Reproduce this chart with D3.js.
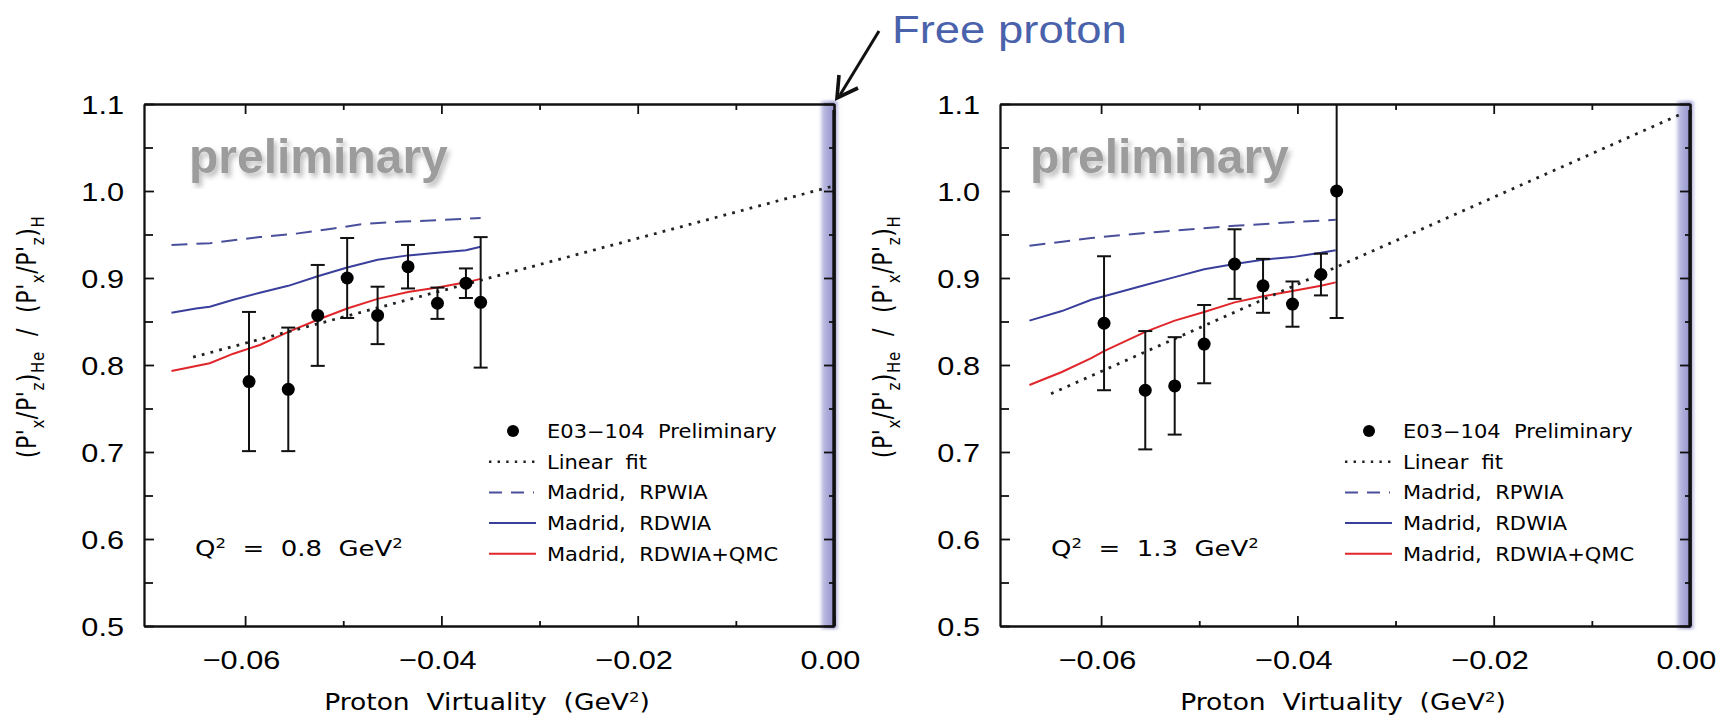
<!DOCTYPE html>
<html>
<head>
<meta charset="utf-8">
<script src="https://cdn.jsdelivr.net/npm/d3@7"></script>
<style>
  body { margin: 0; background: #fff; }
  svg { display: block; }
  text { font-family: "Liberation Sans", Arial, sans-serif; }
  .hershey { font-family: "DejaVu Sans", sans-serif; }
</style>
</head>
<body>
<svg id="chart" width="1726" height="720"></svg>
<script>
// axis setup
const X_DOMAIN = [-0.0703, 0];
const Y_DOMAIN = [0.5, 1.1];
const X_MAJOR = [-0.06, -0.04, -0.02, 0];
const X_MINOR = [-0.05, -0.03, -0.01];
const Y_MAJOR = [0.5, 0.6, 0.7, 0.8, 0.9, 1.0, 1.1];
const Y_MINOR = [0.55, 0.65, 0.75, 0.85, 0.95, 1.05];
const FREE_BAND = [-0.0016, 0.0006];

const LEGEND_LABELS = ['E03\u2212104\u00a0\u00a0Preliminary', 'Linear\u00a0\u00a0fit',
  'Madrid,\u00a0\u00a0RPWIA', 'Madrid,\u00a0\u00a0RDWIA', 'Madrid,\u00a0\u00a0RDWIA+QMC'];
const Q2_LABELS = ['0.8', '1.3'];

// [virtuality, ratio, error]
const DATA_08 = [
  [-0.0596, 0.781, 0.080], [-0.0556, 0.772, 0.071], [-0.0526, 0.857, 0.058],
  [-0.0496, 0.900, 0.046], [-0.0465, 0.857, 0.033], [-0.0434, 0.913, 0.025],
  [-0.0404, 0.871, 0.018], [-0.0375, 0.894, 0.017], [-0.0360, 0.872, 0.075]
];
const FIT_08 = [[-0.0653, 0.809], [-0.0003, 1.005]];
const RPWIA_08 = [[-0.0675, 0.938], [-0.0636, 0.940], [-0.0585, 0.947], [-0.0548, 0.951],
  [-0.0510, 0.957], [-0.0480, 0.962], [-0.0440, 0.965], [-0.0411, 0.966], [-0.0360, 0.969]];
const RDWIA_08 = [[-0.0675, 0.860], [-0.0650, 0.865], [-0.0636, 0.867], [-0.0612, 0.875],
  [-0.0585, 0.883], [-0.0556, 0.891], [-0.0526, 0.902], [-0.0496, 0.912], [-0.0465, 0.921],
  [-0.0434, 0.926], [-0.0404, 0.929], [-0.0375, 0.932], [-0.0360, 0.936]];
const QMC_08 = [[-0.0675, 0.793], [-0.0636, 0.802], [-0.0612, 0.813], [-0.0585, 0.823],
  [-0.0556, 0.838], [-0.0526, 0.852], [-0.0496, 0.865], [-0.0465, 0.876], [-0.0434, 0.884],
  [-0.0404, 0.889], [-0.0375, 0.895], [-0.0360, 0.899]];

const DATA_13 = [
  [-0.0597, 0.848, 0.077], [-0.0555, 0.771, 0.068], [-0.0525, 0.776, 0.056],
  [-0.0495, 0.824, 0.045], [-0.0464, 0.916, 0.040], [-0.0435, 0.891, 0.031],
  [-0.0405, 0.870, 0.026], [-0.0376, 0.904, 0.024], [-0.0360, 1.000, 0.146]
];
const FIT_13 = [[-0.0651, 0.767], [-0.0008, 1.089]];
const RPWIA_13 = [[-0.0673, 0.937], [-0.0610, 0.946], [-0.0543, 0.953], [-0.0464, 0.960],
  [-0.0407, 0.964], [-0.0361, 0.967]];
const RDWIA_13 = [[-0.0673, 0.851], [-0.0640, 0.862], [-0.0610, 0.875], [-0.0555, 0.892],
  [-0.0525, 0.901], [-0.0495, 0.910], [-0.0464, 0.916], [-0.0435, 0.921], [-0.0405, 0.924],
  [-0.0376, 0.929], [-0.0361, 0.932]];
const QMC_13 = [[-0.0673, 0.777], [-0.0640, 0.792], [-0.0610, 0.808], [-0.0597, 0.816],
  [-0.0555, 0.838], [-0.0525, 0.851], [-0.0495, 0.861], [-0.0464, 0.872], [-0.0435, 0.879],
  [-0.0405, 0.885], [-0.0376, 0.891], [-0.0361, 0.895]];

const SX = 1.18;   // the source lettering is stretched sideways
const BLUE = '#3a3f9c', BLUE_DASH = '#4a4f9c', RED = '#e0262a';

const svg = d3.select('#chart');
const defs = svg.append('defs');
const grad = defs.append('linearGradient').attr('id', 'band');
[[0, '#ffffff', 0], [0.2, '#bcbce2', 0.95], [0.5, '#a4a4d6', 1], [0.75, '#9696ce', 1], [1, '#c4c4e6', 0]]
  .forEach(s => grad.append('stop').attr('offset', s[0]).attr('stop-color', s[1]).attr('stop-opacity', s[2]));
defs.append('filter').attr('id', 'soft').attr('x', '-50%').attr('width', '200%')
  .append('feGaussianBlur').attr('stdDeviation', 1.4);
defs.append('filter').attr('id', 'shadow')
  .append('feDropShadow').attr('dx', 3).attr('dy', 4).attr('stdDeviation', 2.5)
  .attr('flood-color', '#000').attr('flood-opacity', 0.25);

function stretched(g, x, y, str, sx = SX) {
  return g.append('text').attr('transform', `translate(${x},${y}) scale(${sx},1)`).text(str);
}
function sup(t, s, size) {
  t.append('tspan').attr('font-size', size).attr('dy', -size * 0.6).text(s);
}

function drawPanel(idx, left, data, fit, rpwia, rdwia, qmc, wmX) {
  const W = 690, top = 104, bottom = 626;
  const x = d3.scaleLinear().domain(X_DOMAIN).range([left, left + W]);
  const y = d3.scaleLinear().domain(Y_DOMAIN).range([bottom, top]);
  const g = svg.append('g');

  g.append('clipPath').attr('id', 'clip' + idx).append('rect')
    .attr('x', left).attr('y', top).attr('width', W).attr('height', bottom - top);

  // free proton band
  g.append('rect').attr('x', x(FREE_BAND[0])).attr('width', x(FREE_BAND[1]) - x(FREE_BAND[0]))
    .attr('y', top - 3).attr('height', bottom - top + 6).attr('fill', 'url(#band)').attr('filter', 'url(#soft)');

  // watermark
  g.append('text').attr('x', wmX).attr('y', 173).attr('font-size', 48).attr('font-weight', 'bold')
    .attr('fill', '#9c9c9c').attr('filter', 'url(#shadow)').text('preliminary');

  const plot = g.append('g').attr('clip-path', `url(#clip${idx})`);
  const line = d3.line().x(d => x(d[0])).y(d => y(d[1]));
  plot.append('path').attr('d', line(rpwia)).attr('fill', 'none').attr('stroke', BLUE_DASH)
    .attr('stroke-width', 2).attr('stroke-dasharray', '16 9');
  plot.append('path').attr('d', line(rdwia)).attr('fill', 'none').attr('stroke', BLUE).attr('stroke-width', 2);
  plot.append('path').attr('d', line(qmc)).attr('fill', 'none').attr('stroke', RED).attr('stroke-width', 2);
  plot.append('path').attr('d', line(fit)).attr('fill', 'none').attr('stroke', '#222')
    .attr('stroke-width', 2.8).attr('stroke-dasharray', '2.8 6.2');

  // error bars
  const eb = plot.append('g').attr('stroke', '#111').attr('stroke-width', 2);
  eb.selectAll('line.v').data(data).join('line')
    .attr('x1', d => x(d[0])).attr('x2', d => x(d[0]))
    .attr('y1', d => y(d[1] - d[2])).attr('y2', d => y(d[1] + d[2]));
  eb.selectAll('line.c').data(data.flatMap(d => [[d[0], d[1] - d[2]], [d[0], d[1] + d[2]]])).join('line')
    .attr('x1', d => x(d[0]) - 7).attr('x2', d => x(d[0]) + 7)
    .attr('y1', d => y(d[1])).attr('y2', d => y(d[1]));
  plot.selectAll('circle').data(data).join('circle')
    .attr('cx', d => x(d[0])).attr('cy', d => y(d[1])).attr('r', 6.5).attr('fill', '#000');

  // axes, ticks pointing inward on all four sides
  const fx = d3.format('.2f'), fy = d3.format('.1f');
  const styleLabels = (sel, dx) => sel.selectAll('text').attr('font-size', 26).attr('fill', '#000')
    .attr('font-family', '"Liberation Sans", Arial, sans-serif')
    .attr('transform', `scale(${SX},1)`).attr('x', dx);
  const axes = [
    [d3.axisBottom(x).tickValues(X_MAJOR).tickSize(-10).tickPadding(25).tickFormat(fx), `translate(0,${bottom})`, 'b'],
    [d3.axisBottom(x).tickValues(X_MINOR).tickSize(-5).tickFormat(''), `translate(0,${bottom})`],
    [d3.axisTop(x).tickValues(X_MAJOR).tickSize(-10).tickFormat(''), `translate(0,${top})`],
    [d3.axisTop(x).tickValues(X_MINOR).tickSize(-6).tickFormat(''), `translate(0,${top})`],
    [d3.axisLeft(y).tickValues(Y_MAJOR).tickSize(-10).tickFormat(fy), `translate(${left},0)`, 'l'],
    [d3.axisLeft(y).tickValues(Y_MINOR).tickSize(-9).tickFormat(''), `translate(${left},0)`],
    [d3.axisRight(y).tickValues(Y_MAJOR).tickSize(-10).tickFormat(''), `translate(${left + W},0)`],
    [d3.axisRight(y).tickValues(Y_MINOR).tickSize(-5).tickFormat(''), `translate(${left + W},0)`]
  ];
  axes.forEach(([gen, tr, kind]) => {
    const a = g.append('g').attr('transform', tr).call(gen.tickSizeOuter(0));
    a.selectAll('path.domain').attr('stroke', '#111').attr('stroke-width', 1.8);
    a.selectAll('.tick line').attr('stroke', '#111').attr('stroke-width', 1.8);
    if (kind === 'b') styleLabels(a, -3.5);
    if (kind === 'l') { styleLabels(a, -17); a.selectAll('text').attr('dy', '0.36em'); }
  });
  g.append('line').attr('x1', x(0)).attr('x2', x(0)).attr('y1', top + 6).attr('y2', bottom)
    .attr('stroke', '#111').attr('stroke-width', 3.4);

  // Q^2 label
  const q = stretched(g, left + 51, 556, '').attr('class', 'hershey').attr('font-size', 22);
  q.append('tspan').text('Q');
  sup(q, '2', 14);
  q.append('tspan').attr('dy', 14 * 0.6).text(`\u00a0\u00a0=\u00a0\u00a0${Q2_LABELS[idx]}\u00a0\u00a0GeV`);
  sup(q, '2', 14);

  // legend
  const lg = g.append('g');
  LEGEND_LABELS.forEach((lab, i) => {
    const cy = 431 + i * 30.7;
    stretched(lg, left + 403, cy + 7, lab, 1.13).attr('class', 'hershey').attr('font-size', 18.6);
    if (i === 0) lg.append('circle').attr('cx', left + 369).attr('cy', cy).attr('r', 6).attr('fill', '#000');
    else {
      const st = [null, ['#222', 2.4, '2.4 6.2', 392], [BLUE_DASH, 2, '13 9', 390], [BLUE, 2, null, 392], [RED, 2, null, 392]][i];
      lg.append('line').attr('x1', left + 345).attr('x2', left + st[3]).attr('y1', cy).attr('y2', cy)
        .attr('stroke', st[0]).attr('stroke-width', st[1]).attr('stroke-dasharray', st[2]);
    }
  });

  // axis titles
  const xt = stretched(g, left + W / 2 - 2, 710, '').attr('class', 'hershey').attr('font-size', 22.5)
    .attr('text-anchor', 'middle');
  xt.append('tspan').text('Proton\u00a0\u00a0Virtuality\u00a0\u00a0(GeV');
  sup(xt, '2', 14);
  xt.append('tspan').attr('dy', 14 * 0.6).text(')');

  const yt = g.append('text').attr('class', 'hershey')
    .attr('transform', `translate(${left - 108},337) scale(${SX},1) rotate(-90)`)
    .attr('text-anchor', 'middle').attr('font-size', 22).attr('letter-spacing', 0.6);
  const parts = [['(P\'', 0], ['x', 1], ['/P\'', 0], ['z', 1], [')', 0], ['He', 1],
    ['\u00a0\u00a0/\u00a0\u00a0(P\'', 0], ['x', 1], ['/P\'', 0], ['z', 1], [')', 0], ['H', 1]];
  let low = false;
  parts.forEach(([s, sub]) => {
    const t = yt.append('tspan').text(s);
    if (sub) t.attr('font-size', 15);
    if (sub && !low) t.attr('dy', 7);
    if (!sub && low) t.attr('dy', -7);
    low = !!sub;
  });
}

drawPanel(0, 144, DATA_08, FIT_08, RPWIA_08, RDWIA_08, QMC_08, 189);
drawPanel(1, 1000, DATA_13, FIT_13, RPWIA_13, RDWIA_13, QMC_13, 1030);

// free proton annotation
stretched(svg, 892, 43, 'Free proton').attr('font-size', 38.5).attr('fill', '#4a62ac');
svg.append('line').attr('x1', 879).attr('y1', 31).attr('x2', 840).attr('y2', 95)
  .attr('stroke', '#111').attr('stroke-width', 3);
svg.append('path').attr('d', 'M839,75 L837,98 L858,88').attr('fill', 'none')
  .attr('stroke', '#111').attr('stroke-width', 3.6).attr('stroke-linejoin', 'miter');
</script>
</body>
</html>
